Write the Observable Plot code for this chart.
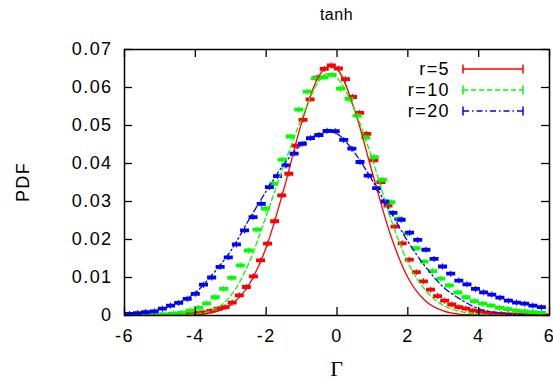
<!DOCTYPE html>
<html><head><meta charset="utf-8">
<script src="https://cdn.jsdelivr.net/npm/d3@7"></script>
<script src="https://cdn.jsdelivr.net/npm/@observablehq/plot@0.6"></script>
<style>body{margin:0;background:#fff}#chart{width:553px;height:380px}</style>
</head><body><div id="chart"></div>
<script>
// ---------- data ----------
const seriesNames = ["r=5", "r=10", "r=20"];
const seriesColors = ["#ff0000", "#00ff00", "#0000ff"];
const seriesDash = [null, "5,3", "6,3,1.5,3"];
const xTicks = [-6, -4, -2, 0, 2, 4, 6];
const yTicks = [0, 0.01, 0.02, 0.03, 0.04, 0.05, 0.06, 0.07];

// histogram points (with tiny error bars)
const redX = [-5.96,-5.76,-5.56,-5.36,-5.16,-4.96,-4.76,-4.56,-4.36,-4.16,-3.96,-3.76,-3.56,-3.36,-3.16,-2.96,-2.76,-2.56,-2.36,-2.16,-1.96,-1.76,-1.56,-1.36,-1.16,-0.96,-0.76,-0.56,-0.36,-0.16,0.04,0.24,0.44,0.64,0.84,1.04,1.24,1.44,1.64,1.84,2.04,2.24,2.44,2.64,2.84,3.04,3.24,3.44,3.64,3.84,4.04,4.24,4.44,4.64,4.84,5.04,5.24,5.44,5.64,5.84];
const redY = [0,0,0,0.0001,0.0001,0.0001,0.0001,0.0002,0.0003,0.0004,0.0006,0.0008,0.0012,0.0018,0.0022,0.0034,0.0053,0.0075,0.0103,0.0145,0.0189,0.0248,0.0316,0.0373,0.0447,0.0515,0.0569,0.0626,0.0649,0.0658,0.0650,0.0622,0.0575,0.0533,0.0478,0.0408,0.0351,0.0289,0.0234,0.0190,0.0147,0.0114,0.0090,0.0068,0.0051,0.0039,0.0029,0.0022,0.0018,0.0013,0.0010,0.0007,0.0005,0.0004,0.0003,0.0002,0.0002,0.0001,0.0001,0.0001];

const greenX = [-5.80,-5.56,-5.33,-5.09,-4.86,-4.62,-4.38,-4.15,-3.91,-3.68,-3.44,-3.20,-2.97,-2.73,-2.50,-2.26,-2.02,-1.79,-1.55,-1.32,-1.08,-0.84,-0.61,-0.37,-0.14,0.10,0.34,0.57,0.81,1.05,1.28,1.52,1.75,1.99,2.23,2.46,2.70,2.93,3.17,3.41,3.64,3.88,4.11,4.35,4.59,4.82,5.06,5.29,5.53,5.77];
const greenY = [0.0001,0.0001,0.0001,0.0002,0.0003,0.0005,0.0007,0.0013,0.0020,0.0032,0.0048,0.0070,0.0099,0.0132,0.0171,0.0226,0.0281,0.0347,0.0410,0.0471,0.0542,0.0589,0.0624,0.0627,0.0633,0.0597,0.0570,0.0526,0.0468,0.0417,0.0357,0.0298,0.0255,0.0216,0.0177,0.0142,0.0117,0.0097,0.0079,0.0061,0.0048,0.0038,0.0031,0.0026,0.0020,0.0017,0.0013,0.0011,0.0009,0.0007];

const blueX = [-5.86,-5.63,-5.40,-5.16,-4.93,-4.70,-4.47,-4.23,-4.00,-3.77,-3.54,-3.30,-3.07,-2.84,-2.61,-2.37,-2.14,-1.91,-1.68,-1.44,-1.21,-0.98,-0.75,-0.51,-0.28,-0.05,0.19,0.42,0.65,0.88,1.12,1.35,1.58,1.81,2.05,2.28,2.51,2.74,2.98,3.21,3.44,3.67,3.91,4.14,4.37,4.60,4.84,5.07,5.30,5.53,5.77];
const blueY = [0.0004,0.0006,0.0009,0.0011,0.0018,0.0026,0.0033,0.0044,0.0057,0.0081,0.0100,0.0128,0.0153,0.0187,0.0224,0.0259,0.0294,0.0338,0.0367,0.0395,0.0426,0.0452,0.0467,0.0475,0.0486,0.0485,0.0462,0.0439,0.0404,0.0368,0.0335,0.0300,0.0270,0.0252,0.0218,0.0199,0.0173,0.0149,0.0129,0.0110,0.0092,0.0082,0.0070,0.0061,0.0055,0.0047,0.0039,0.0034,0.0031,0.0026,0.0022];

// fitted curves
const fitRedX = [-6,-5,-4.5,-4,-3.5,-3,-2.5,-2,-1.5,-1,-0.5,-0.2,0,0.5,1,1.5,2,2.5,3,3.5,4,4.5,6];
const fitRedY = [0,0,0.00005,0.0002,0.0008,0.0028,0.0079,0.0179,0.0333,0.0507,0.0632,0.0655,0.0648,0.0540,0.0375,0.0215,0.0100,0.0038,0.0012,0.0003,0.0001,0,0];
const fitGreenX = [-6,-5,-4.5,-4,-3.5,-3,-2.5,-2,-1.5,-1,-0.5,-0.3,0,0.5,1,1.5,2,2.5,3,3.5,4,4.5,5,6];
const fitGreenY = [0,0,0.0001,0.0004,0.0015,0.0052,0.0135,0.0262,0.0395,0.0518,0.0618,0.0636,0.0625,0.0540,0.0410,0.0260,0.0140,0.0066,0.0027,0.0010,0.0004,0.0001,0,0];
const fitBlueX = [-6,-5.5,-5,-4.5,-4,-3.5,-3,-2.5,-2,-1.5,-1,-0.5,-0.2,0,0.5,1,1.5,2,2.5,3,3.5,4,4.5,5,5.5,6];
const fitBlueY = [0.0003,0.0007,0.0016,0.0033,0.0060,0.0110,0.0170,0.0250,0.0327,0.0398,0.0450,0.0478,0.0483,0.0478,0.0428,0.0355,0.0275,0.0195,0.0128,0.0075,0.0042,0.0018,0.0008,0.0003,0.0001,0];

// ---------- build ----------
const pts = [[redX, redY], [greenX, greenY], [blueX, blueY]].map(([xs, ys]) => xs.map((x, i) => ({x, y: ys[i]})));
const fits = [[fitRedX, fitRedY], [fitGreenX, fitGreenY], [fitBlueX, fitBlueY]].map(([xs, ys]) => xs.map((x, i) => ({x, y: ys[i]})));

const barSymbol = {
  draw(ctx) {
    ctx.rect(-4.5, -1.9, 9, 3.8);
    ctx.rect(-0.5, -3, 1, 6);
  }
};

const W = 553, H = 380, ML = 124, MR = 4, MT = 49, MB = 65;
const FW = W - ML - MR, FH = H - MT - MB, TICK = 8;
const FONT = "'Liberation Sans', Arial, sans-serif";

const marks = [];
pts.forEach((d, i) => marks.push(Plot.dot(d, {x: "x", y: "y", symbol: barSymbol, fill: seriesColors[i], stroke: "none", clip: true})));
fits.forEach((d, i) => marks.push(Plot.line(d, {x: "x", y: "y", stroke: seriesColors[i], strokeWidth: 1.3, strokeDasharray: seriesDash[i], curve: "monotone-x", clip: true})));
marks.push(
  Plot.tickX(xTicks, {x: d => d, insetTop: FH - TICK, stroke: "black", strokeWidth: 1.3}),
  Plot.tickX(xTicks, {x: d => d, insetBottom: FH - TICK, stroke: "black", strokeWidth: 1.3}),
  Plot.tickY(yTicks, {y: d => d, insetRight: FW - TICK, stroke: "black", strokeWidth: 1.3}),
  Plot.tickY(yTicks, {y: d => d, insetLeft: FW - TICK, stroke: "black", strokeWidth: 1.3}),
  Plot.axisX(xTicks, {tickSize: 0, tickPadding: 14, label: null, fill: "black", tickFormat: d => String(d)}),
  Plot.axisY(yTicks, {tickSize: 0, tickPadding: 12, label: null, fill: "black", tickFormat: d => d === 0 ? "0" : d.toFixed(2)}),
  Plot.frame({stroke: "black", strokeWidth: 1.5})
);

const svg = Plot.plot({
  width: W, height: H,
  marginLeft: ML, marginRight: MR, marginTop: MT, marginBottom: MB,
  x: {domain: [-6, 6]},
  y: {domain: [0, 0.07]},
  style: {fontFamily: FONT, fontSize: "18px", letterSpacing: "1.4px", background: "white", color: "black"},
  marks
});

const g = d3.select(svg).append("g").attr("font-family", FONT).attr("fill", "black").attr("letter-spacing", "1.4px");
g.append("text").attr("x", ML + FW / 2).attr("y", 14).attr("text-anchor", "middle").attr("dominant-baseline", "central").attr("font-size", 16).attr("letter-spacing", "0.5px").text("tanh");
g.append("text").attr("transform", `translate(23,${MT + FH / 2}) rotate(-90)`).attr("text-anchor", "middle").attr("dominant-baseline", "central").attr("font-size", 18).text("PDF");
g.append("text").attr("x", ML + FW / 2).attr("y", 368).attr("text-anchor", "middle").attr("dominant-baseline", "central").attr("font-family", "'Liberation Serif', 'DejaVu Serif', serif").attr("font-size", 22).attr("letter-spacing", "0px").text("Γ");

const leg = g.append("g");
seriesNames.forEach((name, i) => {
  const yy = 69 + 21 * i;
  leg.append("text").attr("x", 450).attr("y", yy).attr("text-anchor", "end").attr("dominant-baseline", "central").attr("font-size", 18).text(name);
  leg.append("line").attr("x1", 463).attr("x2", 523).attr("y1", yy).attr("y2", yy).attr("stroke", seriesColors[i]).attr("stroke-width", 1.5).attr("stroke-dasharray", seriesDash[i]);
  [463, 523].forEach(xx => leg.append("line").attr("x1", xx).attr("x2", xx).attr("y1", yy - 4.5).attr("y2", yy + 4.5).attr("stroke", seriesColors[i]).attr("stroke-width", 1.5));
});

document.getElementById("chart").appendChild(svg);
</script></body></html>
